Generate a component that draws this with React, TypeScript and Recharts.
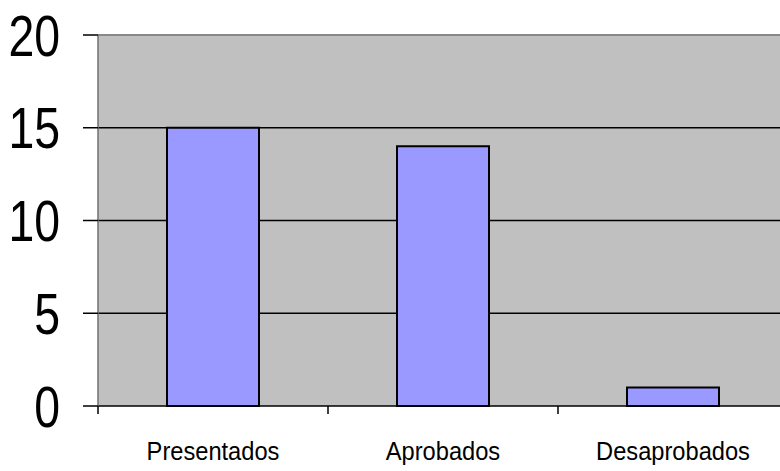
import React from "react";
import { BarChart, Bar, XAxis, YAxis, CartesianGrid, ReferenceLine } from "recharts";

const categories = ["Presentados", "Aprobados", "Desaprobados"];
const values = [15, 14, 1];
const yTicks = [0, 5, 10, 15, 20];

const data = categories.map((name, i) => ({ name, value: values[i] }));

const FONT = '"Liberation Sans", Arial, sans-serif';

function YTick(props: any) {
  const { x, y, payload } = props;
  return (
    <g transform={`translate(${x},${y}) scale(0.8,1)`}>
      <text x={0} y={0} dy="0.355em" textAnchor="end" fill="#000" fontSize={58} fontFamily={FONT}>
        {payload.value}
      </text>
    </g>
  );
}

function XTick(props: any) {
  const { x, y, payload } = props;
  const half = typeof payload.offset === "number" ? payload.offset : 0;
  return (
    <g>
      <line x1={x - half} x2={x - half} y1={y} y2={y + 8} stroke="#000" strokeWidth={1.5} />
      <g transform={`translate(${x},${y + 36}) scale(0.91,1)`}>
        <text x={0} y={0} dy="0.71em" textAnchor="middle" fill="#000" fontSize={26} fontFamily={FONT}>
          {payload.value}
        </text>
      </g>
    </g>
  );
}

export default function App() {
  return (
    <div style={{ position: "fixed", left: 0, top: 0, width: 780, height: 471, overflow: "hidden", background: "#fff" }}>
      <BarChart
        width={800}
        height={471}
        data={data}
        margin={{ top: 35, right: 12, left: 0, bottom: 0 }}
        barCategoryGap="30%"
      >
        <CartesianGrid vertical={false} stroke="#000" strokeWidth={1.5} fill="#C0C0C0" horizontalValues={[5, 10, 15]} />
        <XAxis
          dataKey="name"
          tickLine={false}
          tickSize={0}
          tickMargin={0}
          axisLine={{ stroke: "#000", strokeWidth: 1.5 }}
          height={65}
          interval={0}
          tick={<XTick />}
        />
        <YAxis
          domain={[0, 20]}
          ticks={yTicks}
          width={98}
          tickSize={15}
          tickMargin={23}
          interval={0}
          tickLine={{ stroke: "#000", strokeWidth: 1.5 }}
          axisLine={{ stroke: "#707070", strokeWidth: 1.5 }}
          tick={<YTick />}
        />
        <ReferenceLine y={20} stroke="#888" strokeWidth={2} />
        <Bar dataKey="value" fill="#9999FF" stroke="#000" strokeWidth={2} isAnimationActive={false} />
      </BarChart>
    </div>
  );
}
